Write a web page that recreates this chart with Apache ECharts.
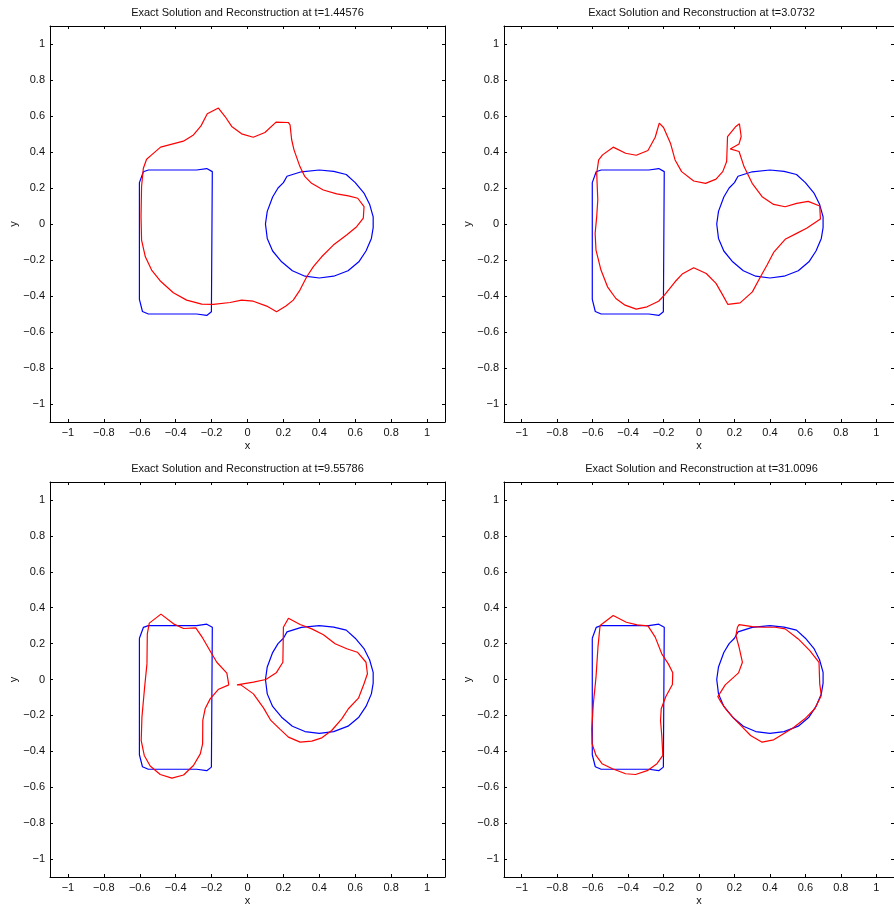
<!DOCTYPE html>
<html>
<head>
  <meta charset="utf-8">
  <script src="https://cdn.jsdelivr.net/npm/echarts@6.0.0/dist/echarts.min.js"></script>
  <style>
    html, body { margin: 0; padding: 0; background: #fff; }
    #chart { width: 894px; height: 907px; }
  </style>
</head>
<body>
  <div id="chart"></div>
  <script>
    // tick positions and panel titles
    var ticks = [-1, -0.8, -0.6, -0.4, -0.2, 0, 0.2, 0.4, 0.6, 0.8, 1];
    var titles = [
      'Exact Solution and Reconstruction at t=1.44576',
      'Exact Solution and Reconstruction at t=3.0732',
      'Exact Solution and Reconstruction at t=9.55786',
      'Exact Solution and Reconstruction at t=31.0096'
    ];

    // exact solution (blue), same in every panel
    var rectExact = [
      [-0.602, 0.23], [-0.58, 0.29], [-0.552, 0.30], [-0.283, 0.30], [-0.227, 0.308],
      [-0.196, 0.291], [-0.201, -0.488], [-0.227, -0.508], [-0.283, -0.50], [-0.552, -0.50],
      [-0.585, -0.486], [-0.602, -0.419], [-0.602, 0.23]
    ];
    var circleExact = [
      [0.40, 0.30], [0.48, 0.292], [0.55, 0.275], [0.60, 0.23], [0.65, 0.17], [0.68, 0.11],
      [0.70, 0.04], [0.70, -0.02], [0.69, -0.08], [0.66, -0.15], [0.62, -0.21], [0.56, -0.26],
      [0.48, -0.29], [0.40, -0.30], [0.32, -0.29], [0.25, -0.26], [0.19, -0.21], [0.14, -0.15],
      [0.11, -0.08], [0.10, 0.0], [0.11, 0.07], [0.14, 0.15], [0.17, 0.20], [0.20, 0.23],
      [0.22, 0.265], [0.30, 0.29], [0.40, 0.30]
    ];

    // reconstructions (red)
    var recon1 = [
      [-0.562, 0.36], [-0.534, 0.384], [-0.484, 0.427], [-0.357, 0.46], [-0.301, 0.495],
      [-0.259, 0.545], [-0.224, 0.612], [-0.162, 0.644], [-0.125, 0.597], [-0.088, 0.542],
      [-0.033, 0.501], [0.032, 0.482], [0.097, 0.508], [0.159, 0.566], [0.227, 0.564],
      [0.237, 0.551], [0.246, 0.468], [0.259, 0.412], [0.292, 0.319], [0.32, 0.263],
      [0.357, 0.226], [0.422, 0.189], [0.497, 0.167], [0.562, 0.156], [0.614, 0.143],
      [0.649, 0.096], [0.645, 0.032], [0.608, -0.015], [0.552, -0.061], [0.478, -0.117],
      [0.413, -0.182], [0.367, -0.237], [0.33, -0.293], [0.292, -0.367], [0.255, -0.423],
      [0.214, -0.456], [0.162, -0.488], [0.107, -0.456], [0.032, -0.429], [-0.033, -0.423],
      [-0.097, -0.436], [-0.19, -0.447], [-0.255, -0.445], [-0.339, -0.423], [-0.413, -0.382],
      [-0.487, -0.315], [-0.534, -0.256], [-0.569, -0.182], [-0.59, -0.089], [-0.593, 0.041],
      [-0.59, 0.208], [-0.58, 0.31], [-0.562, 0.36]
    ];
    var recon2 = [
      [-0.566, 0.356], [-0.544, 0.384], [-0.484, 0.427], [-0.414, 0.393], [-0.354, 0.382],
      [-0.288, 0.408], [-0.247, 0.482], [-0.224, 0.56], [-0.2, 0.536], [-0.161, 0.449],
      [-0.135, 0.356], [-0.098, 0.291], [-0.03, 0.239], [0.037, 0.226], [0.096, 0.249],
      [0.134, 0.291], [0.156, 0.347], [0.161, 0.486], [0.208, 0.542], [0.228, 0.557],
      [0.236, 0.551], [0.238, 0.486], [0.226, 0.445], [0.176, 0.417], [0.226, 0.403],
      [0.254, 0.319], [0.3, 0.226], [0.356, 0.152], [0.421, 0.109], [0.486, 0.096],
      [0.551, 0.115], [0.616, 0.126], [0.681, 0.1], [0.685, 0.028], [0.607, -0.024],
      [0.551, -0.052], [0.486, -0.085], [0.421, -0.158], [0.384, -0.228], [0.347, -0.293],
      [0.301, -0.377], [0.232, -0.438], [0.163, -0.447], [0.134, -0.395], [0.096, -0.33],
      [0.041, -0.275], [-0.03, -0.243], [-0.095, -0.278], [-0.135, -0.321], [-0.195, -0.395],
      [-0.228, -0.429], [-0.293, -0.46], [-0.354, -0.473], [-0.417, -0.451], [-0.469, -0.414],
      [-0.516, -0.349], [-0.553, -0.256], [-0.581, -0.145], [-0.586, -0.052], [-0.577, 0.041],
      [-0.571, 0.134], [-0.577, 0.282], [-0.566, 0.356]
    ];
    var recon3Left = [
      [-0.104, -0.03], [-0.115, 0.035], [-0.171, 0.096], [-0.204, 0.152], [-0.249, 0.23],
      [-0.288, 0.288], [-0.356, 0.284], [-0.412, 0.31], [-0.482, 0.364], [-0.547, 0.314],
      [-0.558, 0.254], [-0.56, 0.087], [-0.573, -0.043], [-0.588, -0.21], [-0.592, -0.34],
      [-0.575, -0.423], [-0.542, -0.482], [-0.486, -0.529], [-0.421, -0.549], [-0.356, -0.532],
      [-0.301, -0.479], [-0.263, -0.414], [-0.25, -0.358], [-0.249, -0.228], [-0.236, -0.163],
      [-0.208, -0.108], [-0.161, -0.054], [-0.104, -0.03]
    ];
    var recon3Right = [
      [-0.059, -0.03], [0.033, -0.015], [0.102, 0.0], [0.16, 0.037], [0.197, 0.096],
      [0.2, 0.291], [0.228, 0.341], [0.293, 0.306], [0.358, 0.282], [0.423, 0.249],
      [0.488, 0.199], [0.553, 0.171], [0.612, 0.152], [0.66, 0.096], [0.668, 0.032],
      [0.649, -0.024], [0.618, -0.104], [0.562, -0.163], [0.525, -0.219], [0.469, -0.284],
      [0.414, -0.325], [0.358, -0.343], [0.293, -0.349], [0.228, -0.321], [0.182, -0.278],
      [0.13, -0.228], [0.089, -0.158], [0.033, -0.08], [-0.037, -0.03], [-0.059, -0.03]
    ];
    var recon4Left = [
      [-0.558, 0.301], [-0.484, 0.356], [-0.41, 0.319], [-0.349, 0.304], [-0.288, 0.299],
      [-0.247, 0.236], [-0.21, 0.143], [-0.173, 0.087], [-0.148, 0.037], [-0.15, -0.028],
      [-0.187, -0.095], [-0.213, -0.163], [-0.217, -0.228], [-0.21, -0.312], [-0.204, -0.423],
      [-0.237, -0.469], [-0.288, -0.506], [-0.358, -0.529], [-0.414, -0.525], [-0.488, -0.497],
      [-0.547, -0.469], [-0.581, -0.423], [-0.603, -0.358], [-0.605, -0.275], [-0.596, -0.135],
      [-0.581, 0.013], [-0.57, 0.18], [-0.558, 0.301]
    ];
    var recon4Right = [
      [0.226, 0.306], [0.301, 0.295], [0.366, 0.291], [0.43, 0.291], [0.486, 0.282],
      [0.56, 0.226], [0.625, 0.161], [0.677, 0.096], [0.681, -0.024], [0.69, -0.089],
      [0.653, -0.163], [0.597, -0.219], [0.532, -0.269], [0.477, -0.302], [0.421, -0.336],
      [0.356, -0.349], [0.291, -0.312], [0.245, -0.265], [0.199, -0.219], [0.158, -0.173],
      [0.124, -0.126], [0.106, -0.095], [0.148, -0.03], [0.223, 0.037], [0.245, 0.096],
      [0.226, 0.18], [0.208, 0.245], [0.217, 0.291], [0.226, 0.306]
    ];

    var reconPerPanel = [[recon1], [recon2], [recon3Left, recon3Right], [recon4Left, recon4Right]];

    var chart = echarts.init(document.getElementById('chart'));

    var font = 'Liberation Sans';
    var fmt = function (v) {
      var a = Math.round(Math.abs(v) * 10) / 10;
      return (v < 0 ? '\u2212' : '') + a;
    };

    // panel boxes
    var boxes = [
      { left: 50, top: 26 },
      { left: 504, top: 26 },
      { left: 50, top: 482 },
      { left: 504, top: 482 }
    ];
    var W = 395, H = 396;

    var grid = [], xAxis = [], yAxis = [], series = [], title = [];

    boxes.forEach(function (b, i) {
      grid.push({ left: b.left, top: b.top, width: W, height: H, containLabel: false });
      title.push({
        text: titles[i], left: b.left + W / 2, top: b.top - 19, padding: 0,
        textAlign: 'center',
        textStyle: { fontFamily: font, fontSize: 11, fontWeight: 'normal', color: '#111' }
      });

      var lineStyle = { color: '#000', width: 1 };
      var tick = { show: true, inside: true, length: 3, customValues: ticks, lineStyle: { color: '#000' } };

      // bottom x axis with labels
      xAxis.push({
        type: 'value', gridIndex: i, min: -1.1, max: 1.1, position: 'bottom',
        name: 'x', nameLocation: 'middle', nameGap: 18,
        nameTextStyle: { fontFamily: font, fontSize: 11, color: '#111' },
        axisLine: { show: true, onZero: false, lineStyle: lineStyle },
        axisTick: tick,
        axisLabel: { show: true, customValues: ticks, formatter: fmt, margin: 5,
          fontFamily: font, fontSize: 11, color: '#111' },
        splitLine: { show: false }
      });
      // top mirror
      xAxis.push({
        type: 'value', gridIndex: i, min: -1.1, max: 1.1, position: 'top',
        axisLine: { show: true, onZero: false, lineStyle: lineStyle },
        axisTick: tick, axisLabel: { show: false }, splitLine: { show: false }
      });
      // left y axis with labels
      yAxis.push({
        type: 'value', gridIndex: i, min: -1.1, max: 1.1, position: 'left',
        name: 'y', nameLocation: 'middle', nameGap: 31, nameRotate: 90,
        nameTextStyle: { fontFamily: font, fontSize: 11, color: '#111' },
        axisLine: { show: true, onZero: false, lineStyle: lineStyle },
        axisTick: tick,
        axisLabel: { show: true, customValues: ticks, formatter: fmt, margin: 5,
          fontFamily: font, fontSize: 11, color: '#111' },
        splitLine: { show: false }
      });
      // right mirror
      yAxis.push({
        type: 'value', gridIndex: i, min: -1.1, max: 1.1, position: 'right',
        axisLine: { show: true, onZero: false, lineStyle: lineStyle },
        axisTick: tick, axisLabel: { show: false }, splitLine: { show: false }
      });

      var base = { type: 'line', xAxisIndex: 2 * i, yAxisIndex: 2 * i, showSymbol: false,
        symbol: 'none', clip: true, silent: true };

      series.push(Object.assign({}, base, { data: rectExact, lineStyle: { color: '#0000ff', width: 1.2 } }));
      series.push(Object.assign({}, base, { data: circleExact, lineStyle: { color: '#0000ff', width: 1.2 } }));
      reconPerPanel[i].forEach(function (curve) {
        series.push(Object.assign({}, base, { data: curve, lineStyle: { color: '#ff0000', width: 1.2 } }));
      });
    });

    var option = {
      animation: false,
      backgroundColor: '#fff',
      title: title,
      grid: grid,
      xAxis: xAxis,
      yAxis: yAxis,
      series: series
    };

    chart.setOption(option);
  </script>
</body>
</html>
